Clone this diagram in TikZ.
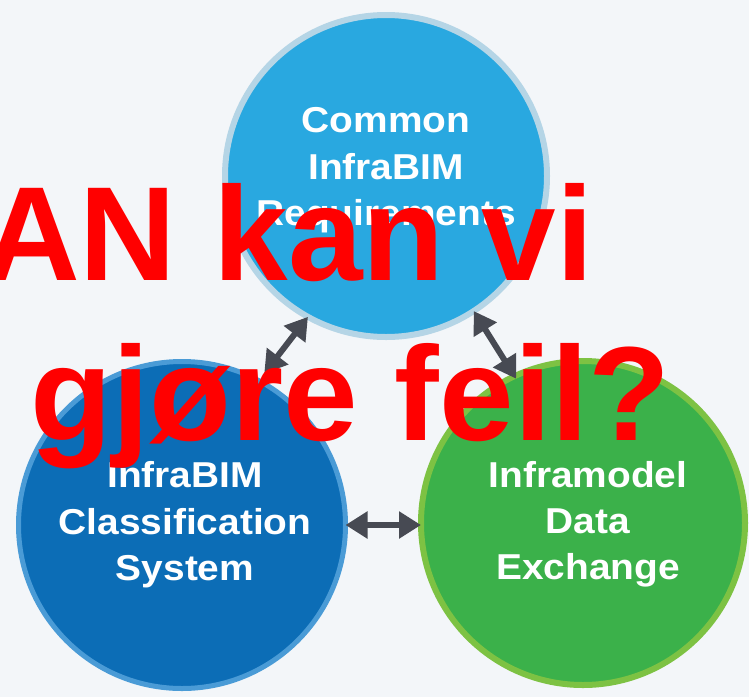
\documentclass[tikz,border=0pt]{standalone}
\usepackage{fontspec}
\setmainfont{Liberation Sans}
\newfontfamily\wfont[FakeStretch=1.08]{Liberation Sans}
\usetikzlibrary{arrows.meta}
\definecolor{bg}{HTML}{F3F6F9}
\definecolor{topfill}{HTML}{29A8E0}
\definecolor{topring}{HTML}{B5D5E6}
\definecolor{blfill}{HTML}{0C6DB6}
\definecolor{blring}{HTML}{4A9BD6}
\definecolor{brfill}{HTML}{3BB14A}
\definecolor{brring}{HTML}{7DC243}
\definecolor{arrowgray}{HTML}{474A53}
\begin{document}
\begin{tikzpicture}[x=1pt,y=-1pt,
  ring/.style={circle, outer sep=0pt, inner sep=0pt},
  lbl/.style={text=white, font=\wfont\bfseries\fontsize{36}{47}\selectfont, anchor=base, inner sep=0pt},
  big/.style={text=red, font=\bfseries\fontsize{134}{134}\selectfont, anchor=base west, inner sep=0pt},
  arr/.style={draw=arrowgray, line width=6pt, {Triangle[length=22pt,width=26pt]}-{Triangle[length=22pt,width=26pt]}}]
\fill[bg] (0,0) rectangle (749,697);
\useasboundingbox (0,0) rectangle (749,697);
% circles
\node[ring, minimum size=322pt, fill=topfill, draw=topring, line width=6pt] (top) at (386,176) {};
\node[ring, minimum size=327pt, fill=blfill, draw=blring, line width=5pt] (bl) at (182,525) {};
\node[ring, minimum size=324pt, fill=brfill, draw=brring, line width=6pt] (br) at (583,523) {};
% labels
\node[lbl] (t1) at (386,132) {Common};
\node[lbl] (t2) at (386,179) {InfraBIM};
\node[lbl] (t3) at (386,225) {Requirements};
\node[lbl] (l1) at (185,487) {InfraBIM};
\node[lbl] (l2) at (185,534) {Classification};
\node[lbl] (l3) at (185,580) {System};
\node[lbl] (r1) at (588,487) {Inframodel};
\node[lbl] (r2) at (588,533) {Data};
\node[lbl] (r3) at (588,579) {Exchange};
% arrows
\draw[arr, shorten <=9pt] (bl.62) -- (top.-119);
\draw[arr, shorten >=-3pt] (top.-57) -- (br.115);
\draw[arr] (bl.0) -- (br.180 |- bl.0);
% overlay text
\node[big] (h1) at (-17,280) {AN kan vi};
\node[big] (h2) at (30,440) {gjøre feil?};
\end{tikzpicture}
\end{document}
